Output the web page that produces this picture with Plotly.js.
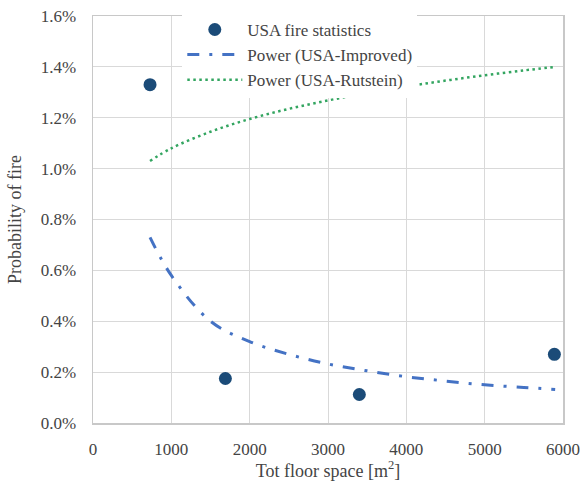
<!DOCTYPE html>
<html>
<head>
<meta charset="utf-8">
<script src="https://cdn.plot.ly/plotly-3.0.1.min.js"></script>
</head>
<body style="margin:0">
<div id="chart" style="width:588px;height:481px"></div>
<script>
// Observed USA fire statistics
const statsArea = [728, 1690, 3400, 5890];
const statsProb = [0.0133, 0.00175, 0.00112, 0.0027];

// Trend line "Power (USA-Improved)" values
const improvedArea = [728, 1000, 1500, 2000, 2500, 3000, 3500, 4000, 4500, 5000, 5500, 5900];
const improvedProb = [0.0073, 0.0058, 0.0040, 0.0032, 0.0027, 0.00232, 0.00205, 0.00182, 0.00165, 0.0015, 0.0014, 0.00132];

// Trend line "Power (USA-Rutstein)" values
const rutsteinArea = [728, 1000, 1500, 2000, 2500, 3000, 3500, 4000, 4500, 5000, 5500, 5900];
const rutsteinProb = [0.0103, 0.0108, 0.01145, 0.01195, 0.01235, 0.01268, 0.01297, 0.01323, 0.01346, 0.01367, 0.01386, 0.0140];

const names = ['USA fire statistics', 'Power (USA-Improved)', 'Power (USA-Rutstein)'];
const xTitle = 'Tot floor space [m<sup>2</sup>]';
const yTitle = 'Probability of fire';

const fam = 'Liberation Serif';

const traces = [
  {x: statsArea, y: statsProb, name: names[0], type: 'scatter', mode: 'markers',
   marker: {color: '#1b4b78', size: 13}},
  {x: improvedArea, y: improvedProb, name: names[1], type: 'scatter', mode: 'lines',
   line: {color: '#4472c4', width: 3, dash: '12px,10px,3px,10px', shape: 'spline'}},
  {x: rutsteinArea, y: rutsteinProb, name: names[2], type: 'scatter', mode: 'lines',
   line: {color: '#33a560', width: 2.5, dash: '2.5px,3.5px', shape: 'spline'}}
];

const layout = {
  width: 588, height: 481,
  margin: {l: 93, r: 25, t: 14, b: 58},
  showlegend: true,
  legend: {x: 0.19, y: 1.01, xanchor: 'left', yanchor: 'top',
           font: {family: fam, size: 17}, itemwidth: 55, tracegroupgap: 0},
  xaxis: {
    range: [0, 6000], dtick: 1000, tick0: 0,
    showgrid: true, gridcolor: '#d9d9d9', gridwidth: 1,
    showline: true, mirror: true, linecolor: '#c8c8c8', linewidth: 1.5,
    zeroline: false, ticks: '', ticklabelstandoff: 10,
    tickfont: {family: fam, size: 17},
    title: {text: xTitle, font: {family: fam, size: 18}, standoff: 12}
  },
  yaxis: {
    range: [0, 0.016], dtick: 0.002, tick0: 0, tickformat: '.1%',
    showgrid: true, gridcolor: '#d9d9d9', gridwidth: 1,
    showline: true, mirror: true, linecolor: '#c8c8c8', linewidth: 1.5,
    zeroline: false, ticks: '', ticklabelstandoff: 12,
    tickfont: {family: fam, size: 17},
    title: {text: yTitle, font: {family: fam, size: 18}, standoff: 14}
  }
};

Plotly.newPlot('chart', traces, layout, {staticPlot: true});
</script>
</body>
</html>
